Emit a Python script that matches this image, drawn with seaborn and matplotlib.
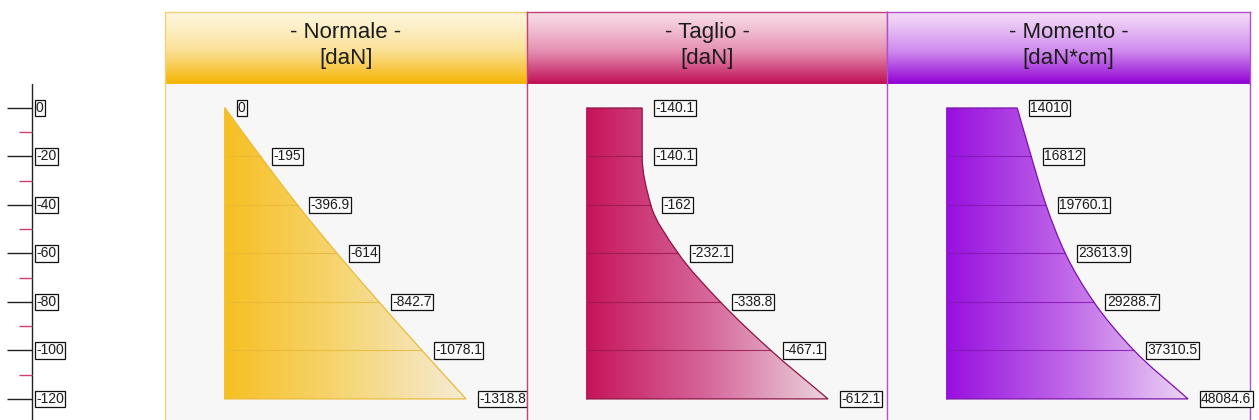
import numpy as np
import matplotlib
matplotlib.use("Agg")
import matplotlib.pyplot as plt
import seaborn as sns
import pandas as pd
from matplotlib.colors import LinearSegmentedColormap
from matplotlib.path import Path
from matplotlib.patches import PathPatch

# ---- data -------------------------------------------------------------
depth = [0, -20, -40, -60, -80, -100, -120]
normale = [0, -195, -396.9, -614, -842.7, -1078.1, -1318.8]
taglio = [-140.1, -140.1, -162, -232.1, -338.8, -467.1, -612.1]
momento = [14010, 16812, 19760.1, 23613.9, 29288.7, 37310.5, 48084.6]

titles = ["- Normale -", "- Taglio -", "- Momento -"]
units = ["[daN]", "[daN]", "[daN*cm]"]
series = [normale, taglio, momento]

# ---- styling ----------------------------------------------------------
sns.set_theme(style="white")
plt.rcParams["font.family"] = ["Liberation Sans", "DejaVu Sans"]

W, H = 1259, 420
panel_x = [(165, 527), (527, 887), (887, 1250)]
head_y = (12, 84)
body_y = (84, 420)
z_top, z_bot = 9.9, -128.7
shape_left, shape_width = 60, 241

fill_colors = [
    ["#f7bf22", "#f6d677", "#f5ebd6"],
    ["#c6155a", "#d6679a", "#ead3dd"],
    ["#9810df", "#bf68e8", "#ecd2f5"],
]
head_colors = [
    ["#fef7e0", "#fbe095", "#f5b400"],
    ["#f8dfe8", "#e58fb2", "#c00e55"],
    ["#f4def8", "#cf8aee", "#9000d4"],
]
edge_colors = ["#e9bb3a", "#8c1444", "#7b12a8"]
line_colors = ["#e8b83a", "#9a1a4c", "#8416b4"]
border_colors = ["#f0d27a", "#c8407a", "#b050d0"]
body_bg = "#f7f7f8"

fig = plt.figure(figsize=(W / 100, H / 100), dpi=100)
fig.patch.set_facecolor("white")


def px_axes(x0, y0, x1, y1):
    return fig.add_axes([x0 / W, 1 - y1 / H, (x1 - x0) / W, (y1 - y0) / H])


def smooth_outline(xs, zs):
    """Closed path of the diagram: left edge, top, monotone cubic edge, bottom."""
    xs = np.asarray(xs, float)
    zs = np.asarray(zs, float)
    h = np.diff(zs)
    delta = np.diff(xs) / h
    n = len(xs)
    m = np.zeros(n)
    m[0], m[-1] = delta[0], delta[-1]
    for k in range(1, n - 1):
        if delta[k - 1] * delta[k] > 0:
            w1 = 2 * h[k] + h[k - 1]
            w2 = h[k] + 2 * h[k - 1]
            m[k] = (w1 + w2) / (w1 / delta[k - 1] + w2 / delta[k])
        else:
            m[k] = 0.0
    verts = [(0, zs[0]), (xs[0], zs[0])]
    codes = [Path.MOVETO, Path.LINETO]
    for k in range(n - 1):
        hk = h[k]
        verts += [(xs[k] + m[k] * hk / 3, zs[k] + hk / 3),
                  (xs[k + 1] - m[k + 1] * hk / 3, zs[k + 1] - hk / 3),
                  (xs[k + 1], zs[k + 1])]
        codes += [Path.CURVE4] * 3
    verts += [(0, zs[-1]), (0, zs[0])]
    codes += [Path.LINETO, Path.CLOSEPOLY]
    return Path(verts, codes)


label_box = dict(boxstyle="square,pad=0.1", fc="#fbfbfb", ec="#111111", lw=0.9)

for i, (vals, title, unit) in enumerate(zip(series, titles, units)):
    x0, x1 = panel_x[i]
    mag = np.abs(np.array(vals, dtype=float))
    m = mag.max()

    # header with vertical gradient
    hax = px_axes(x0, head_y[0], x1, head_y[1])
    hcmap = LinearSegmentedColormap.from_list(f"h{i}", head_colors[i])
    grad = np.linspace(0, 1, 256).reshape(-1, 1) ** 1.15
    hax.imshow(grad, aspect="auto", cmap=hcmap, extent=(0, 1, 0, 1), origin="upper")
    hax.set_xlim(0, 1)
    hax.set_ylim(0, 1)
    hax.set_xticks([])
    hax.set_yticks([])
    for s in hax.spines.values():
        s.set_color(border_colors[i])
        s.set_linewidth(1)
    hax.text(0.5, 0.71, title, ha="center", va="center", fontsize=16, color="#1c1c1c")
    hax.text(0.5, 0.36, unit, ha="center", va="center", fontsize=16, color="#1c1c1c")

    # body
    ax = px_axes(x0, body_y[0], x1, body_y[1])
    ax.set_facecolor(body_bg)
    pw = x1 - x0
    xlim = (-shape_left / shape_width * m, (pw - shape_left) / shape_width * m)

    # inner level lines (one line per station)
    levels = pd.DataFrame({
        "val": np.concatenate([np.zeros(len(depth) - 2), mag[1:-1]]),
        "z": depth[1:-1] * 2,
        "level": list(range(len(depth) - 2)) * 2,
    })
    sns.lineplot(data=levels, x="val", y="z", units="level", estimator=None,
                 sort=False, ax=ax, color=line_colors[i], lw=0.8, alpha=0.85,
                 zorder=3)

    # filled diagram with horizontal gradient
    path = smooth_outline(mag, depth)
    clip = PathPatch(path, fc="none", ec="none")
    ax.add_patch(clip)
    fcmap = LinearSegmentedColormap.from_list(f"f{i}", fill_colors[i])
    xg = np.linspace(0, 1, 256).reshape(1, -1)
    im = ax.imshow(xg, aspect="auto", cmap=fcmap,
                   extent=(0, m, depth[-1], depth[0]), origin="upper", zorder=2)
    im.set_clip_path(clip)
    ax.add_patch(PathPatch(path, fc="none", ec=edge_colors[i], lw=0.9, zorder=4))
    ax.plot([0, 0], [depth[0], depth[-1]], color=fill_colors[i][0], lw=1.2, zorder=4)

    ax.set_xlim(*xlim)
    ax.set_ylim(z_bot, z_top)
    ax.set_xticks([])
    ax.set_yticks([])
    ax.set_xlabel("")
    ax.set_ylabel("")
    for s in ax.spines.values():
        s.set_visible(False)
    ax.spines["left"].set_visible(True)
    ax.spines["left"].set_color(border_colors[i])
    ax.spines["left"].set_linewidth(1)
    if i == 2:
        ax.spines["right"].set_visible(True)
        ax.spines["right"].set_color(border_colors[i])
        ax.spines["right"].set_linewidth(1)

    # value labels
    for v, a, z in zip(vals, mag, depth):
        ax.annotate(f"{v:g}", xy=(a, z), xytext=(13, 0), textcoords="offset pixels",
                    ha="left", va="center", fontsize=10, color="#1c1c1c",
                    bbox=label_box, zorder=6, annotation_clip=False)

# depth axis on the left
lax = px_axes(0, body_y[0], 165, body_y[1])
lax.set_xlim(0, 165)
lax.set_ylim(z_bot, z_top)
lax.axis("off")
lax.axvline(32, color="#222222", lw=1.0)
lax.hlines(depth, 7, 32, colors="#222222", lw=1.0)
mid = [(a + b) / 2 for a, b in zip(depth[:-1], depth[1:])]
lax.hlines(mid, 19, 32, colors="#d0406a", lw=1.0)
for z in depth:
    lax.text(36, z, f"{z:g}", ha="left", va="center", fontsize=10, color="#1c1c1c",
             bbox=label_box)

fig.savefig("out.png", dpi=100, facecolor="white")
